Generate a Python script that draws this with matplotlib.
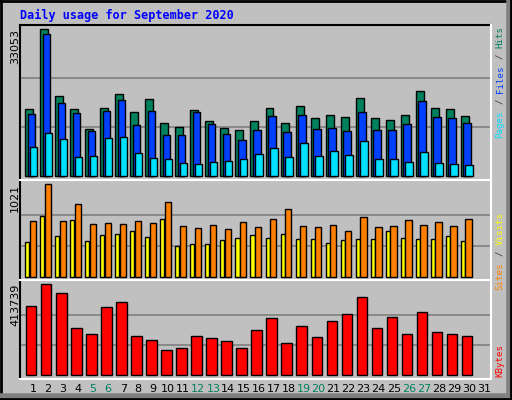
import matplotlib
matplotlib.use("Agg")
import matplotlib.pyplot as plt
import numpy as np

days = list(range(1, 32))
hits = [15070,33053,17990,15070,10570,15290,18440,14390,17320,11920,11020,14840,12370,10790,10340,
        12370,15290,11920,15740,13040,13720,13270,17540,13040,12590,13720,19110,15290,15070,13490]
files = [13950,31950,16420,14170,10120,14620,17100,11470,14620,9220,9220,14400,11700,9450,8100,
         10350,13500,9900,13720,10570,10800,10120,14400,10350,10350,11700,16870,13270,13050,11920]
pages = [6520,9670,8320,4270,4500,8550,8770,5170,4050,3820,2920,2700,3150,3370,3820,
         4950,6300,4270,7420,4500,5620,4720,7870,3820,3820,3150,5400,2920,2700,2470]
sites = [611,1021,611,799,578,589,578,611,589,821,556,534,567,523,600,
         545,633,744,556,545,567,501,655,545,556,622,567,600,556,633]
visits = [379,666,445,622,390,456,467,501,434,633,335,357,357,401,423,
          456,423,467,412,412,368,401,412,412,501,423,412,412,445,390]
kbytes = [313710,413739,372810,213690,186410,309160,331890,177310,159130,113660,122760,177310,168220,154580,122760,
          204590,259150,145490,222780,172770,245510,277340,354630,213690,263700,186410,286430,195500,186410,177310]
weekend = [5, 6, 12, 13, 19, 20, 26, 27]

W, H = 512, 400
BG = "#C0C0C0"
fig = plt.figure(figsize=(W/100, H/100), dpi=100, facecolor=BG)
mono = "DejaVu Sans Mono"

def ax_at(top, bottom):
    return fig.add_axes([20/W, 1-bottom/H, (491-20)/W, (bottom-top)/H])

xl = (1-13/15.03, 1+(491-33)/15.03)
x = np.array(days[:30])

def style(ax, mx, ymin, ymax):
    ax.set_facecolor(BG)
    ax.set_xlim(*xl)
    ax.set_ylim(ymin, ymax)
    for v in (mx/3, 2*mx/3):
        ax.axhline(v, color="#808080", lw=1.2, zorder=0)
    ax.set_xticks([]); ax.set_yticks([])
    for s in ax.spines.values():
        s.set_visible(False)

edge = dict(edgecolor="black", linewidth=1, align="edge", zorder=2)
a1 = ax_at(25, 179)
s1 = 225
style(a1, max(hits), -3*s1, -3*s1+154*s1)
a1.bar(x-0.53, hits, 0.53, color="#00805C", **edge)
a1.bar(x-0.36, files, 0.5, color="#0040FF", **edge)
a1.bar(x-0.23, pages, 0.5, color="#00E0FF", **edge)
a2 = ax_at(180, 279)
s2 = 11.05
style(a2, max(sites), -2.3*s2, -2.3*s2+99*s2)
a2.bar(x-0.53, visits, 0.27, color="#FFFF00", **edge)
a2.bar(x-0.23, sites, 0.42, color="#FF8000", **edge)
a3 = ax_at(280, 378.7)
s3 = 4546
style(a3, max(kbytes), -3.4*s3, -3.4*s3+98.7*s3)
a3.bar(x-0.47, kbytes, 0.7, color="#FF0000", **edge)

def hline(y, c="white", lw=1.5, x0=20, x1=491):
    fig.add_artist(plt.Line2D([x0/W, x1/W], [1-y/H, 1-y/H], color=c, lw=lw))
def vline(xp, y0, y1, c, lw=1.5):
    fig.add_artist(plt.Line2D([xp/W, xp/W], [1-y0/H, 1-y1/H], color=c, lw=lw))
hline(25, "black"); vline(20, 25, 379, "black")
hline(179.5); hline(279.5); hline(379); vline(491, 25, 379, "white")
hline(1, "black", 2, 0, 512); vline(1, 0, 400, "black", 2)
hline(396, "#808080", 4, 0, 512); vline(509, 0, 400, "#808080", 4)
hline(399, "black", 2, 0, 512); vline(511, 0, 400, "black", 2)

fig.text(20/W, 1-15/H, "Daily usage for September 2020", color="#0000FF",
         fontsize=8.5, fontweight="bold", family=mono, va="center", ha="left")

for ymax_px, lab in ((29, "33053"), (184, "1021"), (284, "413739")):
    fig.text(15/W, 1-ymax_px/H, lab, rotation=90, fontsize=8, family="DejaVu Sans",
             ha="center", va="top")

FS = 6.6
STEP = 0.602*FS*100/72 + 0.1
def rlabel(parts, y_bottom):
    y = y_bottom
    for t, c in parts:
        s = t.strip()
        lead = len(t) - len(t.lstrip())
        yy = y - lead*STEP
        fig.text(500/W, 1-yy/H, s, rotation=90, color=c, fontsize=FS, family=mono,
                 ha="center", va="bottom")
        y -= len(t)*STEP
rlabel([("Pages", "#00E0FF"), (" / ", "#404040"), ("Files", "#0040FF"), (" / ", "#404040"), ("Hits", "#00805C")], 138)
rlabel([("Sites", "#FF8000"), (" / ", "#404040"), ("Visits", "#FFFF00")], 290)
rlabel([("KBytes", "#FF0000")], 377)

for d in days:
    xp = 33 + (d-1)*15.03
    fig.text(xp/W, 1-389/H, str(d), ha="center", va="center", fontsize=8,
             color="#00805C" if d in weekend else "black", family="DejaVu Sans")

fig.savefig("out.png", dpi=100, facecolor=BG)
